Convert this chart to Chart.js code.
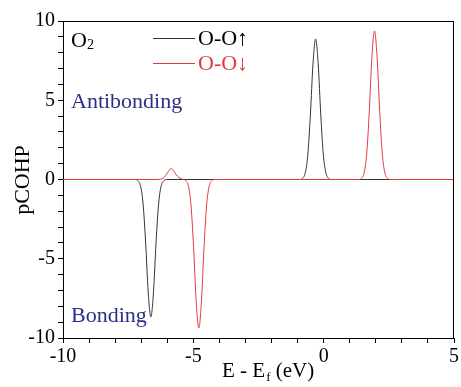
<!DOCTYPE html>
<html><head><meta charset="utf-8">
<script src="https://cdn.jsdelivr.net/npm/chart.js@4.4.1/dist/chart.umd.min.js"></script>
<style>html,body{margin:0;padding:0;background:#fff}#wrap{width:461px;height:387px}</style>
</head><body><div id="wrap"><canvas id="c" width="461" height="387"></canvas></div>
<script>
// ---- data ----
const seriesNames = ['O-O\u2191', 'O-O\u2193'];
const energyUp = [-10, -7.23, -7.13, -7.03, -6.93, -6.83, -6.73, -6.63, -6.53, -6.43, -6.33, -6.23, -6.13, -6.03,
                  -0.91, -0.81, -0.71, -0.61, -0.51, -0.41, -0.31, -0.21, -0.11, -0.01, 0.09, 0.19, 0.29, 5];
const cohpUp   = [0, 0, -0.07, -0.38, -1.49, -3.97, -7.14, -8.67, -7.14, -3.97, -1.49, -0.38, -0.07, 0,
                  0, 0.07, 0.39, 1.52, 4.06, 7.29, 8.86, 7.29, 4.06, 1.52, 0.39, 0.07, 0, 0];
const energyDown = [-10, -6.36, -6.26, -6.16, -6.06, -5.96, -5.86, -5.76, -5.66, -5.56, -5.46,
                    -5.39, -5.29, -5.19, -5.09, -4.99, -4.89, -4.79, -4.69, -4.59, -4.49, -4.39, -4.29, -4.19,
                    1.35, 1.45, 1.55, 1.65, 1.75, 1.85, 1.95, 2.05, 2.15, 2.25, 2.35, 2.45, 2.55, 5];
const cohpDown   = [0, 0, 0.02, 0.08, 0.25, 0.5, 0.69, 0.55, 0.3, 0.14, 0.05,
                    0, -0.07, -0.41, -1.61, -4.29, -7.71, -9.37, -7.71, -4.29, -1.61, -0.41, -0.07, 0,
                    0, 0.07, 0.41, 1.61, 4.29, 7.71, 9.37, 7.71, 4.29, 1.61, 0.41, 0.07, 0, 0];
const xTickLabels = [-10, -5, 0, 5];
const yTickLabels = [-10, -5, 0, 5, 10];

const upColor = '#333333';
const downColor = '#e2383f';
const navy = '#2b2f86';
const serif = "'Liberation Serif', serif";

function pts(xs, ys) { return xs.map((x, i) => ({x: x, y: ys[i]})); }

const overlay = {
  id: 'overlay',
  afterDraw(chart) {
    const ctx = chart.ctx, a = chart.chartArea;
    ctx.save();
    // frame top & right
    ctx.strokeStyle = '#000'; ctx.lineWidth = 1;
    ctx.beginPath();
    ctx.moveTo(a.left, Math.round(a.top) + 0.5); ctx.lineTo(a.right, Math.round(a.top) + 0.5);
    ctx.moveTo(Math.round(a.right) - 0.5, a.top); ctx.lineTo(Math.round(a.right) - 0.5, a.bottom);
    ctx.stroke();
    // legend
    const ly = [38, 63];
    chart.data.datasets.forEach((ds) => {
      const idx = ds.legendIndex;
      ctx.strokeStyle = ds.borderColor; ctx.lineWidth = 1;
      ctx.beginPath();
      ctx.moveTo(153, ly[idx] + 0.5); ctx.lineTo(195, ly[idx] + 0.5); ctx.stroke();
      ctx.fillStyle = ds.borderColor === upColor ? '#000' : ds.borderColor;
      ctx.font = '22px ' + serif;
      ctx.textBaseline = 'middle'; ctx.textAlign = 'left';
      ctx.fillText(ds.label, 198, ly[idx] + 1);
    });
    // O2 label
    ctx.fillStyle = '#000';
    ctx.textBaseline = 'alphabetic';
    ctx.font = '22px ' + serif;
    ctx.fillText('O', 71, 47);
    const ow = ctx.measureText('O').width;
    ctx.font = '14px ' + serif;
    ctx.fillText('2', 71 + ow, 49);
    // annotations
    ctx.fillStyle = navy;
    ctx.font = '22px ' + serif;
    ctx.fillText('Antibonding', 71, 108);
    ctx.fillText('Bonding', 71, 322);
    // y title
    ctx.fillStyle = '#000';
    ctx.save();
    ctx.translate(23, 180); ctx.rotate(-Math.PI / 2);
    ctx.textAlign = 'center'; ctx.textBaseline = 'middle';
    ctx.font = '22px ' + serif;
    ctx.fillText('pCOHP', 0, 0);
    ctx.restore();
    // x title: E - E_f (eV)
    ctx.font = '21px ' + serif;
    let x = 222; const base = 377;
    ctx.textAlign = 'left';
    ctx.fillText('E - E', x, base); x += ctx.measureText('E - E').width;
    ctx.font = '13px ' + serif;
    ctx.fillText('f', x + 1, base + 4); x += ctx.measureText('f').width + 1;
    ctx.font = '21px ' + serif;
    ctx.fillText(' (eV)', x, base);
    ctx.restore();
  }
};

const tickFont = {family: serif, size: 20};

new Chart(document.getElementById('c'), {
  type: 'line',
  data: {
    datasets: [
      {label: seriesNames[0], legendIndex: 0, data: pts(energyUp, cohpUp), borderColor: upColor,
       borderWidth: 1, pointRadius: 0, cubicInterpolationMode: 'monotone', order: 2, fill: false},
      {label: seriesNames[1], legendIndex: 1, data: pts(energyDown, cohpDown), borderColor: downColor,
       borderWidth: 1, pointRadius: 0, cubicInterpolationMode: 'monotone', order: 1, fill: false}
    ]
  },
  options: {
    responsive: false,
    animation: false,
    layout: {padding: {top: 21, right: 7, left: 0, bottom: 0}},
    plugins: {legend: {display: false}, tooltip: {enabled: false}},
    scales: {
      x: {
        type: 'linear', min: -10, max: 5,
        ticks: {stepSize: 1, autoSkip: false, maxRotation: 0, padding: 2, color: '#000', font: tickFont,
                callback: v => xTickLabels.includes(v) ? String(v) : ''},
        grid: {drawOnChartArea: false, drawTicks: true, tickLength: 5, color: '#000'},
        border: {color: '#000', width: 1},
        afterFit: s => { s.height = 49; }
      },
      y: {
        type: 'linear', min: -10, max: 10,
        ticks: {stepSize: 1, autoSkip: false, padding: 3, color: '#000', font: tickFont,
                callback: v => yTickLabels.includes(v) ? String(v) : ''},
        grid: {drawOnChartArea: false, drawTicks: true, tickLength: 5, color: '#000'},
        border: {color: '#000', width: 1},
        afterFit: s => { s.width = 63; }
      }
    }
  },
  plugins: [overlay]
});
</script>
</body></html>
